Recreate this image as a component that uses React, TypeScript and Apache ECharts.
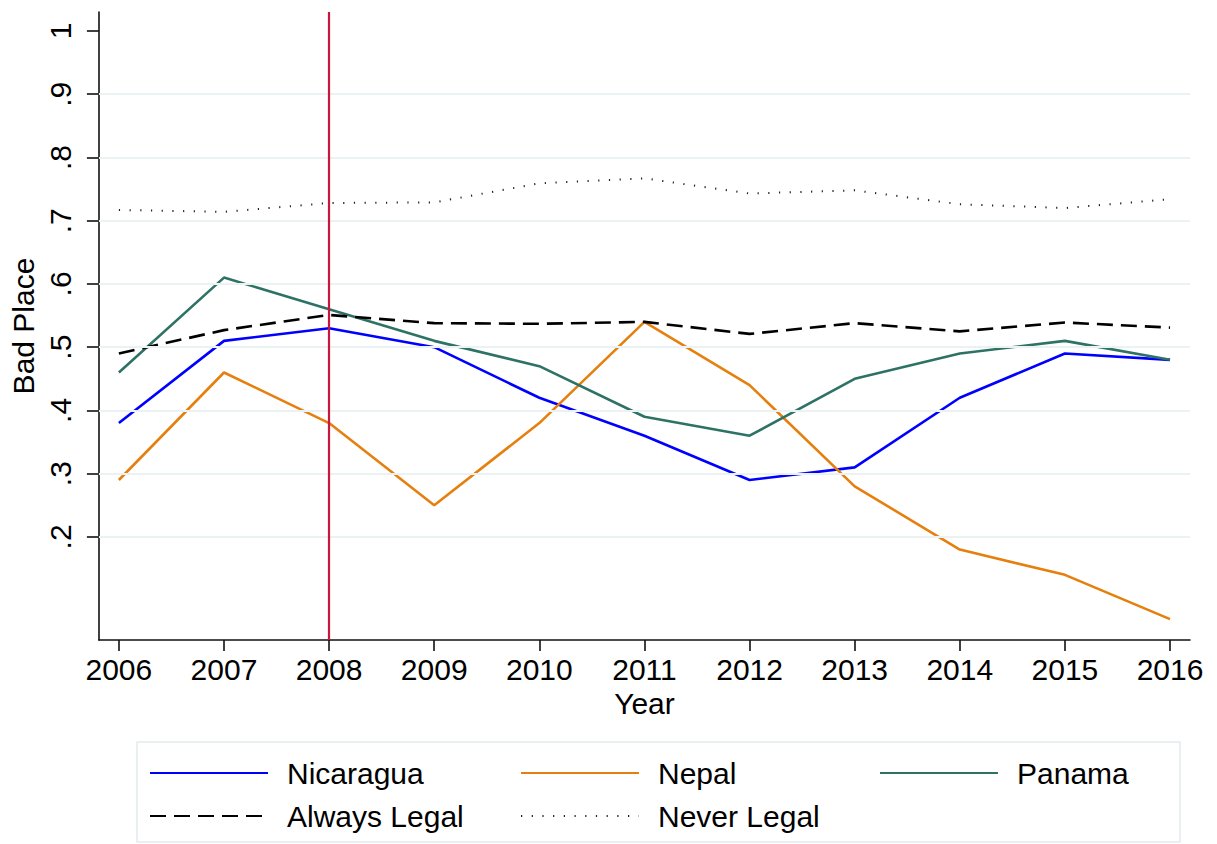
import React, { useEffect, useRef } from "react";
import * as echarts from "echarts";

const years = [2006, 2007, 2008, 2009, 2010, 2011, 2012, 2013, 2014, 2015, 2016];
const nicaragua = [0.38, 0.51, 0.53, 0.5, 0.42, 0.36, 0.29, 0.31, 0.42, 0.49, 0.48];
const nepal = [0.29, 0.46, 0.38, 0.25, 0.38, 0.54, 0.44, 0.28, 0.18, 0.14, 0.07];
const panama = [0.46, 0.61, 0.56, 0.51, 0.47, 0.39, 0.36, 0.45, 0.49, 0.51, 0.48];
const alwaysLegal = [0.49, 0.527, 0.551, 0.538, 0.537, 0.54, 0.521, 0.538, 0.525, 0.539, 0.531];
const neverLegal = [0.717, 0.714, 0.728, 0.729, 0.759, 0.767, 0.743, 0.748, 0.726, 0.72, 0.734];
const yTickValues = [0.2, 0.3, 0.4, 0.5, 0.6, 0.7, 0.8, 0.9, 1];
const gridValues = [0.2, 0.3, 0.4, 0.5, 0.6, 0.7, 0.8, 0.9];
const policyYear = 2008;

const FONT = "Liberation Sans, Arial, Helvetica, sans-serif";

function pairs(vals: number[]) {
  return years.map((y, i) => [y, vals[i]]);
}

export default function App() {
  const ref = useRef<HTMLDivElement>(null);
  useEffect(() => {
    if (!ref.current) return;
    const chart = echarts.init(ref.current, undefined, { renderer: "svg" });
    const legendText = {
      fontFamily: FONT,
      fontSize: 30,
      color: "#000",
      lineHeight: 30,
      padding: [0, 0, 0, 14],
    };
    const legendCommon = {
      orient: "vertical",
      itemWidth: 118,
      itemHeight: 14,
      itemGap: 13,
      padding: 0,
      selectedMode: false,
      itemStyle: { opacity: 0 },
      textStyle: legendText,
    };
    chart.setOption({
      animation: false,
      backgroundColor: "#fff",
      grid: { left: 97, right: 27, top: 12, bottom: 204, containLabel: false },
      xAxis: {
        type: "value",
        min: 2005.81,
        max: 2016.19,
        name: "Year",
        nameLocation: "middle",
        nameGap: 48,
        nameTextStyle: { fontFamily: FONT, fontSize: 30, color: "#000" },
        axisLine: { show: true, lineStyle: { color: "#111", width: 1.6 } },
        axisTick: { show: true, length: 11, customValues: years, lineStyle: { color: "#111", width: 1.6 } },
        axisLabel: {
          customValues: years,
          fontFamily: FONT,
          fontSize: 30,
          color: "#000",
          margin: 14,
          formatter: (v: number) => String(Math.round(v)),
        },
        splitLine: { show: false },
      },
      yAxis: {
        type: "value",
        min: 0.037,
        max: 1.03,
        name: "Bad Place",
        nameLocation: "middle",
        nameGap: 60,
        nameTextStyle: { fontFamily: FONT, fontSize: 30, color: "#000" },
        axisLine: { show: true, lineStyle: { color: "#111", width: 1.6 } },
        axisTick: { show: true, length: 12, customValues: yTickValues, lineStyle: { color: "#111", width: 1.6 } },
        axisLabel: {
          customValues: yTickValues,
          rotate: 90,
          fontFamily: FONT,
          fontSize: 30,
          color: "#000",
          margin: 23,
          formatter: (v: number) => (Math.abs(v - 1) < 1e-6 ? "1" : "." + Math.round(v * 10)),
        },
        splitLine: { show: false },
      },
      legend: [
        { ...legendCommon, left: 149, top: 758, data: ["Nicaragua", "Always Legal"] },
        { ...legendCommon, left: 520, top: 758, data: ["Nepal", "Never Legal"] },
        { ...legendCommon, left: 879, top: 758, data: ["Panama"] },
      ],
      graphic: [
        {
          type: "rect",
          z: -1,
          shape: { x: 137, y: 742, width: 1043, height: 100 },
          style: { fill: "#fff", stroke: "#e4ecee", lineWidth: 1.5 },
          silent: true,
        },
      ],
      series: [
        {
          name: "grid",
          type: "line",
          data: [],
          z: 1,
          silent: true,
          markLine: {
            silent: true,
            symbol: "none",
            label: { show: false },
            lineStyle: { color: "#eaf2f3", width: 2, type: "solid" },
            data: gridValues.map((v) => ({ yAxis: v })),
          },
        },
        {
          name: "Nicaragua",
          type: "line",
          z: 3,
          symbol: "none",
          data: pairs(nicaragua),
          lineStyle: { color: "#0000ff", width: 2.6 },
          itemStyle: { color: "#0000ff" },
        },
        {
          name: "Nepal",
          type: "line",
          z: 3,
          symbol: "none",
          data: pairs(nepal),
          lineStyle: { color: "#e5800f", width: 2.6 },
          itemStyle: { color: "#e5800f" },
        },
        {
          name: "Panama",
          type: "line",
          z: 3,
          symbol: "none",
          data: pairs(panama),
          lineStyle: { color: "#2e7266", width: 2.6 },
          itemStyle: { color: "#2e7266" },
        },
        {
          name: "Always Legal",
          type: "line",
          z: 3,
          symbol: "none",
          data: pairs(alwaysLegal),
          lineStyle: { color: "#000", width: 2.6, type: [16, 8] },
          itemStyle: { color: "#000" },
        },
        {
          name: "Never Legal",
          type: "line",
          z: 3,
          symbol: "none",
          data: pairs(neverLegal),
          lineStyle: { color: "#222", width: 2, type: [1.2, 9.5] },
          itemStyle: { color: "#222" },
        },
        {
          name: "policy",
          type: "line",
          z: 4,
          data: [],
          silent: true,
          markLine: {
            silent: true,
            symbol: "none",
            label: { show: false },
            lineStyle: { color: "#c8163e", width: 2.2, type: "solid" },
            data: [{ xAxis: policyYear }],
          },
        },
      ],
    });
    return () => chart.dispose();
  }, []);
  return (
    <div
      ref={ref}
      style={{ position: "fixed", left: 0, top: 0, width: 1217, height: 844 }}
    />
  );
}
